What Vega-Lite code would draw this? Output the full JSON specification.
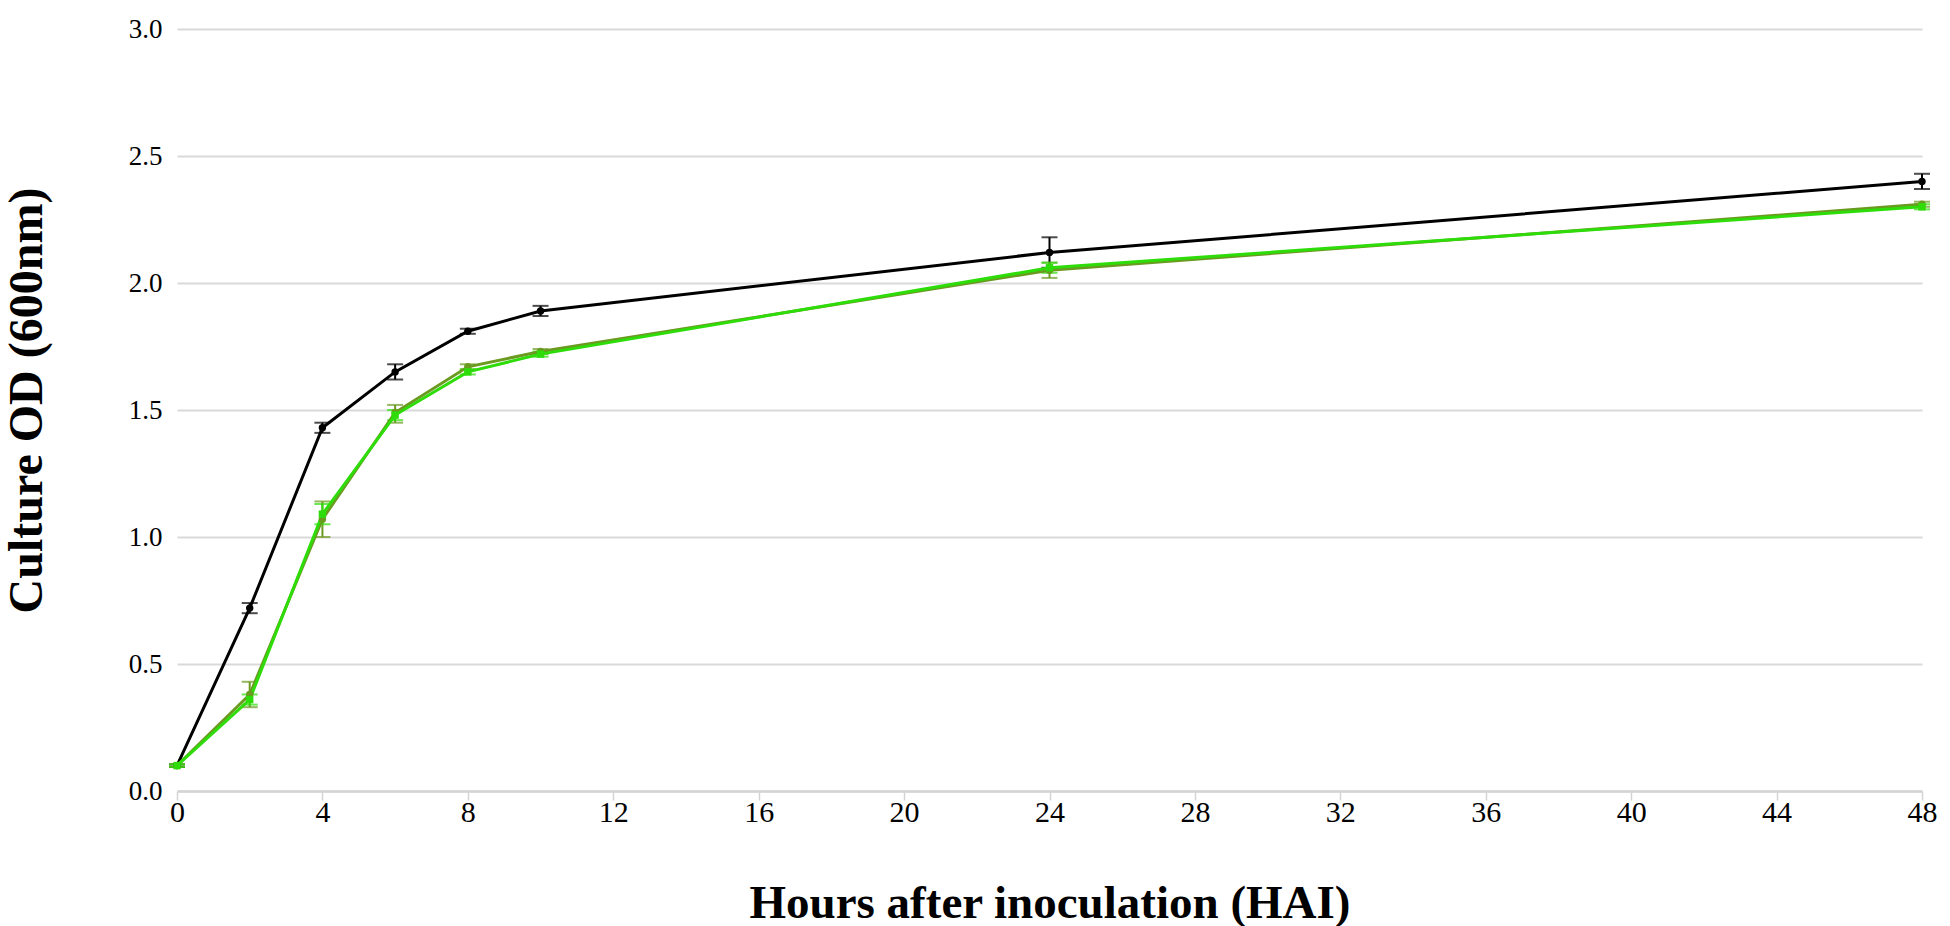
{
  "$schema": "https://vega.github.io/schema/vega-lite/v6.json",
  "width": 1745,
  "height": 762,
  "autosize": {"type": "none"},
  "padding": {"left": 177, "top": 29, "right": 28, "bottom": 135},
  "background": "white",
  "config": {
    "view": {"stroke": null},
    "font": "Liberation Serif",
    "axisX": {
      "labelFont": "Liberation Serif", "labelFontSize": 30, "labelColor": "#000000",
      "labelFlush": false,
      "domainColor": "#d4d4d4", "domainWidth": 2.5,
      "tickColor": "#d4d4d4", "tickWidth": 1.5, "tickSize": 9, "labelPadding": -3,
      "grid": false,
      "titleFont": "Liberation Serif", "titleFontSize": 47, "titleFontWeight": "bold",
      "titleColor": "#000000", "titleY": 126, "titleBaseline": "alphabetic"
    },
    "axisY": {
      "labelFont": "Liberation Serif", "labelFontSize": 27, "labelColor": "#000000",
      "labelPadding": 15, "ticks": false, "domain": false,
      "grid": true, "gridColor": "#d9d9d9", "gridWidth": 2, "tickCount": 6,
      "titleFont": "Liberation Serif", "titleFontSize": 48, "titleFontWeight": "bold",
      "titleColor": "#000000", "titleX": -126, "titleY": 371, "titleAlign": "center", "titleBaseline": "bottom"
    }
  },
  "data": {
    "values": [
      {"series": "S1", "hour": 0, "od": 0.10, "lo": 0.095, "hi": 0.105},
      {"series": "S1", "hour": 2, "od": 0.72, "lo": 0.70, "hi": 0.74},
      {"series": "S1", "hour": 4, "od": 1.43, "lo": 1.41, "hi": 1.45},
      {"series": "S1", "hour": 6, "od": 1.65, "lo": 1.62, "hi": 1.68},
      {"series": "S1", "hour": 8, "od": 1.81, "lo": 1.80, "hi": 1.82},
      {"series": "S1", "hour": 10, "od": 1.89, "lo": 1.87, "hi": 1.91},
      {"series": "S1", "hour": 24, "od": 2.12, "lo": 2.06, "hi": 2.18},
      {"series": "S1", "hour": 48, "od": 2.40, "lo": 2.37, "hi": 2.43},
      {"series": "S2", "hour": 0, "od": 0.10, "lo": 0.095, "hi": 0.105},
      {"series": "S2", "hour": 2, "od": 0.38, "lo": 0.33, "hi": 0.43},
      {"series": "S2", "hour": 4, "od": 1.07, "lo": 1.00, "hi": 1.14},
      {"series": "S2", "hour": 6, "od": 1.49, "lo": 1.45, "hi": 1.52},
      {"series": "S2", "hour": 8, "od": 1.67, "lo": 1.66, "hi": 1.68},
      {"series": "S2", "hour": 10, "od": 1.73, "lo": 1.72, "hi": 1.74},
      {"series": "S2", "hour": 24, "od": 2.05, "lo": 2.02, "hi": 2.08},
      {"series": "S2", "hour": 48, "od": 2.31, "lo": 2.30, "hi": 2.32},
      {"series": "S3", "hour": 0, "od": 0.10, "lo": 0.095, "hi": 0.105},
      {"series": "S3", "hour": 2, "od": 0.36, "lo": 0.34, "hi": 0.38},
      {"series": "S3", "hour": 4, "od": 1.09, "lo": 1.05, "hi": 1.13},
      {"series": "S3", "hour": 6, "od": 1.48, "lo": 1.46, "hi": 1.50},
      {"series": "S3", "hour": 8, "od": 1.65, "lo": 1.64, "hi": 1.66},
      {"series": "S3", "hour": 10, "od": 1.72, "lo": 1.71, "hi": 1.73},
      {"series": "S3", "hour": 24, "od": 2.06, "lo": 2.04, "hi": 2.08},
      {"series": "S3", "hour": 48, "od": 2.30, "lo": 2.29, "hi": 2.31}
    ]
  },
  "encoding": {
    "x": {
      "field": "hour", "type": "quantitative",
      "scale": {"domain": [0, 48], "nice": false},
      "axis": {"values": [0, 4, 8, 12, 16, 20, 24, 28, 32, 36, 40, 44, 48]},
      "title": "Hours after inoculation (HAI)"
    },
    "color": {
      "field": "series", "type": "nominal",
      "scale": {"domain": ["S1", "S2", "S3"], "range": ["#000000", "#6b9a20", "#2edc0a"]},
      "legend": null
    }
  },
  "layer": [
    {
      "mark": {"type": "rule", "strokeWidth": 2},
      "encoding": {
        "y": {"field": "lo", "type": "quantitative", "scale": {"domain": [0, 3], "nice": false}, "title": "Culture OD (600nm)"},
        "y2": {"field": "hi"}
      }
    },
    {
      "mark": {"type": "tick", "orient": "horizontal", "size": 16, "thickness": 2},
      "encoding": {
        "y": {"field": "lo", "type": "quantitative", "title": "Culture OD (600nm)"}
      }
    },
    {
      "mark": {"type": "tick", "orient": "horizontal", "size": 16, "thickness": 2},
      "encoding": {
        "y": {"field": "hi", "type": "quantitative", "title": "Culture OD (600nm)"}
      }
    },
    {
      "mark": {"type": "line", "strokeWidth": 3},
      "encoding": {
        "y": {"field": "od", "type": "quantitative", "title": "Culture OD (600nm)"},
        "strokeWidth": {
          "field": "series", "type": "nominal",
          "scale": {"domain": ["S1", "S2", "S3"], "range": [2.5, 3.5, 3]},
          "legend": null
        }
      }
    },
    {
      "mark": {"type": "point", "filled": true, "opacity": 1},
      "encoding": {
        "y": {"field": "od", "type": "quantitative", "title": "Culture OD (600nm)"},
        "shape": {
          "field": "series", "type": "nominal",
          "scale": {"domain": ["S1", "S2", "S3"], "range": ["circle", "circle", "square"]},
          "legend": null
        },
        "size": {"value": 55}
      }
    }
  ]
}
